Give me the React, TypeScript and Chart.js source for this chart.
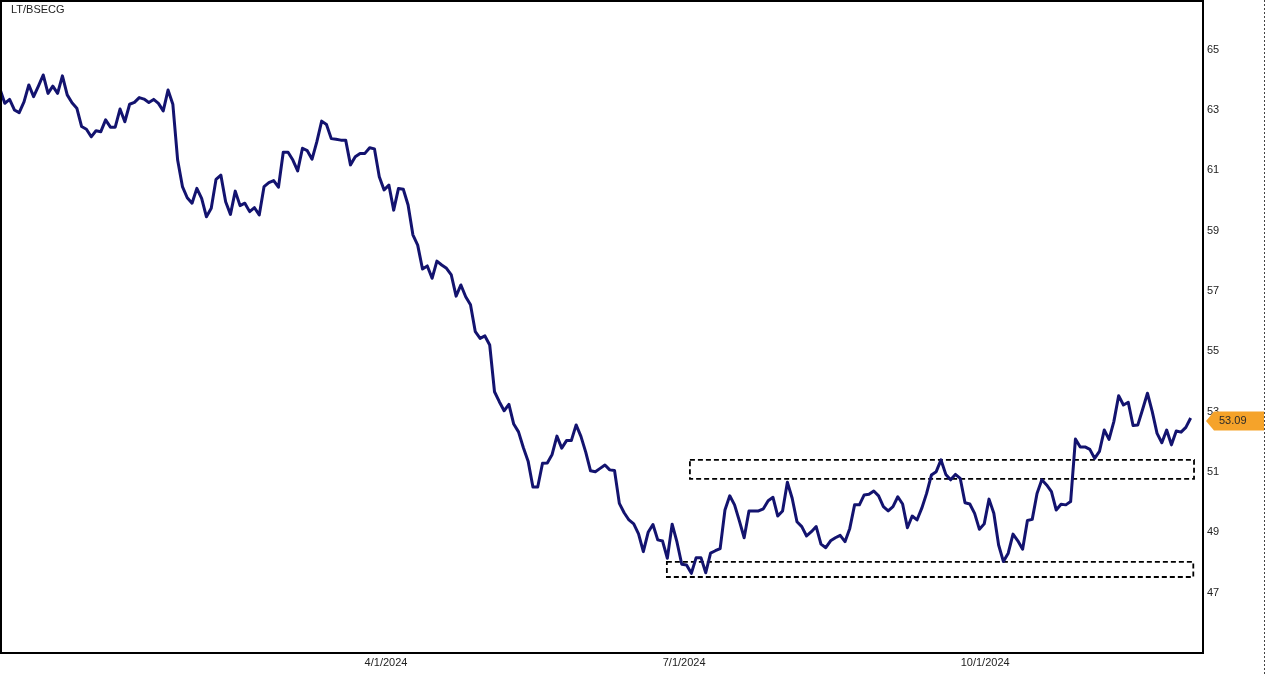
import React, { useEffect, useRef } from 'react';
import { Chart, registerables } from 'chart.js';

Chart.register(...registerables);

const seriesTitle = 'LT/BSECG';

// Daily ratio values (LT / BSE Capital Goods)
const ratioValues: number[] = [
  63.99, 63.52, 63.65, 63.30, 63.21, 63.57, 64.13, 63.74, 64.09, 64.46,
  63.85, 64.09, 63.85, 64.43, 63.80, 63.54, 63.36, 62.75, 62.66, 62.41,
  62.61, 62.58, 62.97, 62.73, 62.73, 63.33, 62.91, 63.49, 63.55, 63.71,
  63.66, 63.55, 63.65, 63.52, 63.27, 63.96, 63.49, 61.64, 60.76, 60.39,
  60.21, 60.70, 60.37, 59.76, 60.04, 61.00, 61.14, 60.26, 59.84, 60.61,
  60.13, 60.21, 59.93, 60.06, 59.82, 60.76, 60.89, 60.96, 60.74, 61.90,
  61.90, 61.64, 61.28, 62.03, 61.95, 61.67, 62.25, 62.93, 62.82, 62.35,
  62.33, 62.30, 62.30, 61.48, 61.75, 61.86, 61.86, 62.05, 62.01, 61.09,
  60.65, 60.81, 59.98, 60.70, 60.67, 60.15, 59.16, 58.82, 58.03, 58.13,
  57.72, 58.29, 58.16, 58.05, 57.83, 57.13, 57.50, 57.11, 56.84, 55.95,
  55.73, 55.81, 55.51, 53.96, 53.63, 53.33, 53.54, 52.89, 52.63, 52.11,
  51.66, 50.80, 50.80, 51.59, 51.60, 51.88, 52.49, 52.09, 52.34, 52.34,
  52.86, 52.48, 51.96, 51.34, 51.31, 51.42, 51.53, 51.37, 51.35, 50.26,
  49.95, 49.71, 49.58, 49.25, 48.66, 49.30, 49.56, 49.05, 49.01, 48.44,
  49.57, 48.98, 48.24, 48.22, 47.94, 48.46, 48.46, 47.96, 48.61, 48.69,
  48.76, 50.04, 50.51, 50.21, 49.68, 49.12, 50.01, 50.01, 50.01, 50.08,
  50.35, 50.46, 49.84, 50.01, 50.96, 50.43, 49.65, 49.49, 49.18, 49.32,
  49.49, 48.91, 48.79, 49.02, 49.12, 49.20, 48.99, 49.43, 50.21, 50.21,
  50.54, 50.56, 50.67, 50.51, 50.15, 50.01, 50.15, 50.48, 50.24, 49.45,
  49.84, 49.71, 50.10, 50.59, 51.20, 51.31, 51.70, 51.22, 51.04, 51.22,
  51.09, 50.28, 50.24, 49.93, 49.40, 49.58, 50.40, 49.93, 48.88, 48.33,
  48.61, 49.24, 49.02, 48.74, 49.69, 49.73, 50.59, 51.04, 50.87, 50.65,
  50.04, 50.23, 50.21, 50.32, 52.39, 52.13, 52.13, 52.05, 51.75, 51.98,
  52.69, 52.38, 52.97, 53.83, 53.52, 53.61, 52.84, 52.86, 53.38, 53.91,
  53.30, 52.58, 52.27, 52.69, 52.20, 52.66, 52.62, 52.78, 53.09,
];

const lastValueLabel = '53.09';

const yTickValues = [47, 49, 51, 53, 55, 57, 59, 61, 63, 65];
const xTickLabels = ['4/1/2024', '7/1/2024', '10/1/2024'];
const xTickIndex = [80.4, 142.5, 205.2];

// Dashed zones (support / resistance), in data units
const zoneStart = [138.9, 143.7];
const zoneEnd = [248.55, 248.7];
const zoneLow = [47.82, 51.07];
const zoneHigh = [48.32, 51.7];

const X_MAX = 250.57;
const Y_MIN = 45.3;
const Y_MAX = 66.945;

const decorPlugin = {
  id: 'decor',
  beforeDatasetsDraw(chart: any) {
    const { ctx, scales } = chart;
    const xs = scales.x;
    const ys = scales.y;
    ctx.save();
    ctx.strokeStyle = '#000';
    ctx.lineWidth = 1.8;
    ctx.setLineDash([5, 3]);
    for (let i = 0; i < zoneStart.length; i++) {
      const x1 = xs.getPixelForValue(zoneStart[i]);
      const x2 = xs.getPixelForValue(zoneEnd[i]);
      const y1 = ys.getPixelForValue(zoneHigh[i]);
      const y2 = ys.getPixelForValue(zoneLow[i]);
      ctx.strokeRect(x1, y1, x2 - x1, y2 - y1);
    }
    ctx.restore();
  },
  afterDraw(chart: any) {
    const { ctx, chartArea, scales, width, height } = chart;
    const ys = scales.y;
    ctx.save();
    // left & top frame
    ctx.strokeStyle = '#000';
    ctx.lineWidth = 2;
    ctx.beginPath();
    ctx.moveTo(chartArea.left + 1, chartArea.bottom);
    ctx.lineTo(chartArea.left + 1, chartArea.top + 1);
    ctx.lineTo(chartArea.right, chartArea.top + 1);
    ctx.stroke();

    // dotted window edge at the far right
    ctx.strokeStyle = '#444';
    ctx.lineWidth = 1;
    ctx.setLineDash([2, 2]);
    ctx.beginPath();
    ctx.moveTo(width - 0.5, 0);
    ctx.lineTo(width - 0.5, height);
    ctx.stroke();
    ctx.setLineDash([]);

    // title
    ctx.fillStyle = '#222';
    ctx.font = '11px "Liberation Sans", Arial, sans-serif';
    ctx.textAlign = 'left';
    ctx.textBaseline = 'top';
    ctx.fillText(seriesTitle, chartArea.left + 11, chartArea.top + 4);

    // last value flag
    const lastVal = ratioValues[ratioValues.length - 1];
    const yc = ys.getPixelForValue(lastVal) + 3;
    const xTip = chartArea.right + 3;
    const h = 9.5;
    ctx.fillStyle = '#F5A32A';
    ctx.beginPath();
    ctx.moveTo(xTip, yc);
    ctx.lineTo(xTip + 8, yc - h);
    ctx.lineTo(width - 1, yc - h);
    ctx.lineTo(width - 1, yc + h);
    ctx.lineTo(xTip + 8, yc + h);
    ctx.closePath();
    ctx.fill();
    ctx.fillStyle = '#2a2a2a';
    ctx.textBaseline = 'middle';
    ctx.fillText(lastValueLabel, xTip + 13, yc);
    ctx.restore();
  },
};

export default function App() {
  const canvasRef = useRef<HTMLCanvasElement | null>(null);

  useEffect(() => {
    if (!canvasRef.current) return;
    Chart.defaults.font.family = '"Liberation Sans", Arial, sans-serif';
    Chart.defaults.font.size = 11;

    const chart = new Chart(canvasRef.current, {
      type: 'line',
      data: {
        datasets: [
          {
            label: seriesTitle,
            data: ratioValues.map((v, i) => ({ x: i, y: v })),
            borderColor: '#13136F',
            borderWidth: 3,
            borderJoinStyle: 'round',
            pointRadius: 0,
            tension: 0,
            fill: false,
          },
        ],
      },
      options: {
        animation: false,
        responsive: false,
        layout: { padding: 0 },
        plugins: {
          legend: { display: false },
          tooltip: { enabled: false },
        },
        scales: {
          x: {
            type: 'linear',
            min: 0,
            max: X_MAX,
            grid: { display: false, drawTicks: false },
            border: { display: true, color: '#000', width: 2 },
            afterBuildTicks: (s: any) => {
              s.ticks = xTickIndex.map((v) => ({ value: v }));
            },
            ticks: {
              autoSkip: false,
              maxRotation: 0,
              padding: 3,
              color: '#222',
              font: { size: 11 },
              callback: (_v: any, i: number) => xTickLabels[i],
            },
            afterFit: (s: any) => {
              s.height = 21;
              s.paddingLeft = 0;
              s.paddingRight = 0;
            },
          },
          y: {
            type: 'linear',
            position: 'right',
            min: Y_MIN,
            max: Y_MAX,
            grid: { display: false, drawTicks: false },
            border: { display: true, color: '#000', width: 2 },
            afterBuildTicks: (s: any) => {
              s.ticks = yTickValues.map((v) => ({ value: v }));
            },
            ticks: {
              autoSkip: false,
              padding: 4,
              labelOffset: -9,
              color: '#222',
              font: { size: 11 },
              callback: (v: any) => String(v),
            },
            afterFit: (s: any) => {
              s.width = 62;
              s.paddingTop = 0;
              s.paddingBottom = 0;
            },
          },
        },
      },
      plugins: [decorPlugin],
    });

    return () => chart.destroy();
  }, []);

  return (
    <div
      style={{
        position: 'fixed',
        left: 0,
        top: 0,
        width: 1265,
        height: 674,
        background: '#fff',
      }}
    >
      <canvas ref={canvasRef} width={1265} height={674} style={{ display: 'block' }} />
    </div>
  );
}
